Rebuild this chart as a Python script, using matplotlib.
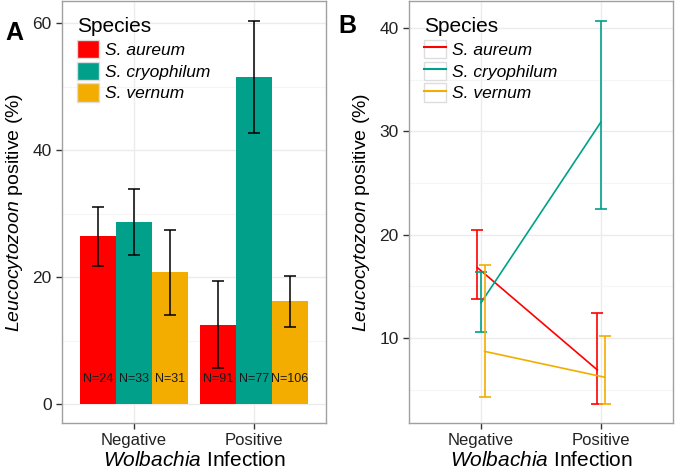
import matplotlib
matplotlib.use("Agg")
import matplotlib.pyplot as plt
import numpy as np
from matplotlib.patches import Patch
from matplotlib.lines import Line2D
from matplotlib.legend_handler import HandlerTuple

plt.rcParams['font.family'] = ['Liberation Sans', 'DejaVu Sans']
plt.rcParams['mathtext.fontset'] = 'custom'
plt.rcParams['mathtext.it'] = 'Liberation Sans:italic'
plt.rcParams['mathtext.rm'] = 'Liberation Sans'

categories = ["Negative", "Positive"]
species = ["S. aureum", "S. cryophilum", "S. vernum"]
colors = ["#FF0000", "#00A08A", "#F2AD00"]

# Panel A: bar means and error limits (per species, [Negative, Positive])
bar_mean = {"S. aureum": [26.5, 12.4], "S. cryophilum": [28.7, 51.5], "S. vernum": [20.8, 16.2]}
bar_low = {"S. aureum": [21.7, 5.7], "S. cryophilum": [23.5, 42.7], "S. vernum": [14.0, 12.1]}
bar_high = {"S. aureum": [31.0, 19.4], "S. cryophilum": [33.8, 60.3], "S. vernum": [27.4, 20.2]}
n_labels = {"S. aureum": ["N=24", "N=91"], "S. cryophilum": ["N=33", "N=77"], "S. vernum": ["N=31", "N=106"]}

# Panel B: line means and error limits
line_mean = {"S. aureum": [16.8, 6.9], "S. cryophilum": [13.4, 30.9], "S. vernum": [8.7, 6.2]}
line_low = {"S. aureum": [13.8, 3.6], "S. cryophilum": [10.6, 22.5], "S. vernum": [4.3, 3.6]}
line_high = {"S. aureum": [20.4, 12.4], "S. cryophilum": [16.4, 40.7], "S. vernum": [17.1, 10.2]}

W, H = 675, 471
fig = plt.figure(figsize=(W / 100, H / 100), dpi=100)

axA = fig.add_axes([62 / W, 48 / H, 264 / W, 422 / H])
axB = fig.add_axes([409 / W, 48 / H, 264 / W, 422 / H])

spine_col = "#A0A0A0"
major_grid = "#EBEBEB"
minor_grid = "#F5F5F5"
tick_col = "#333333"

def style(ax):
    for s in ax.spines.values():
        s.set_color(spine_col)
        s.set_linewidth(1.0)
    ax.tick_params(axis='both', which='major', length=4, width=1, color=tick_col,
                   labelcolor="#222222", direction='out')
    ax.tick_params(axis='y', which='major', labelsize=12.5)
    ax.tick_params(axis='y', which='minor', length=0)
    ax.grid(True, which='major', color=major_grid, linewidth=1.0, zorder=0)
    ax.grid(True, which='minor', axis='y', color=minor_grid, linewidth=0.8, zorder=0)
    ax.set_axisbelow(True)
    ax.set_xticks(range(len(categories)))
    ax.set_xticklabels(categories, fontsize=12)
    ax.set_xlim(-0.6, 1.6)
    ax.set_xlabel(r"$\mathit{Wolbachia}$ Infection", fontsize=15, labelpad=2)
    ax.set_ylabel(r"$\mathit{Leucocytozoon}$ positive (%)", fontsize=14, labelpad=5)

x = np.arange(len(categories))
width = 0.3
for i, sp in enumerate(species):
    pos = x + (i - 1) * width
    m = np.array(bar_mean[sp])
    lo = np.array(bar_low[sp])
    hi = np.array(bar_high[sp])
    axA.bar(pos, m, width, color=colors[i], zorder=2, label=sp)
    axA.errorbar(pos, m, yerr=[m - lo, hi - m], fmt='none', ecolor='black',
                 elinewidth=1.1, capsize=4, capthick=1.1, zorder=3)
    for p, t in zip(pos, n_labels[sp]):
        axA.text(p, 4, t, ha='center', va='center', fontsize=9, color='#1a1a1a', zorder=4)

style(axA)
axA.set_ylim(-3.0, 63.5)
axA.set_yticks([0, 20, 40, 60])
axA.set_yticks([10, 30, 50], minor=True)

leg_kw = dict(loc='upper left', bbox_to_anchor=(0.03, 0.978), frameon=False,
              title="Species", title_fontsize=15, prop={'style': 'italic', 'size': 12.5},
              handlelength=1.3, handleheight=1.25, handletextpad=0.3, labelspacing=0.2,
              borderpad=0.2, borderaxespad=0.2)

handlesA = [Patch(facecolor=c, edgecolor='#DDDDDD', label=s) for c, s in zip(colors, species)]
legA = axA.legend(handles=handlesA, **leg_kw)
legA._legend_box.align = "left"

dodge = [-0.03, 0.0, 0.03]
for i, sp in enumerate(species):
    pos = x + dodge[i]
    m = np.array(line_mean[sp])
    lo = np.array(line_low[sp])
    hi = np.array(line_high[sp])
    axB.plot(pos, m, color=colors[i], linewidth=1.2, zorder=3, label=sp)
    axB.errorbar(pos, m, yerr=[m - lo, hi - m], fmt='none', ecolor=colors[i],
                 elinewidth=1.2, capsize=4, capthick=1.2, zorder=3)

style(axB)
axB.set_ylim(1.77, 42.6)
axB.set_yticks([10, 20, 30, 40])
axB.set_yticks([5, 15, 25, 35], minor=True)

handlesB = [(Patch(facecolor='white', edgecolor='#DDDDDD'), Line2D([0], [0], color=c, linewidth=1.5))
            for c in colors]
legB = axB.legend(handles=handlesB, labels=species,
                  handler_map={tuple: HandlerTuple(ndivide=1, pad=0)}, **leg_kw)
legB._legend_box.align = "left"

fig.text(14 / W, 1 - 33 / H, "A", fontsize=18, fontweight='bold', ha='center', va='center')
fig.text(347 / W, 1 - 26 / H, "B", fontsize=18, fontweight='bold', ha='center', va='center')

fig.savefig("out.png", dpi=100)
